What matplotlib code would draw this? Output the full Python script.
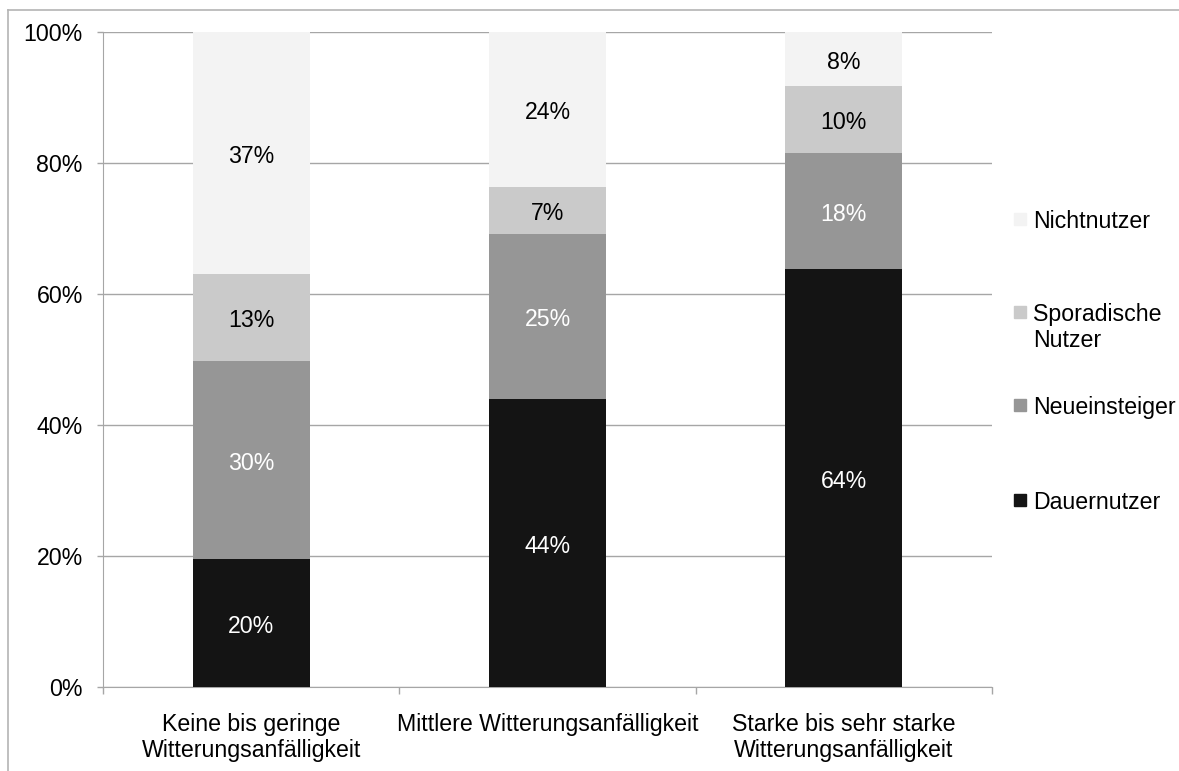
import numpy as np
import matplotlib
matplotlib.use('Agg')
from matplotlib import pyplot as plt
from matplotlib.lines import Line2D

plt.rcParams['font.family'] = ['Liberation Sans', 'DejaVu Sans']

categories = ['Keine bis geringe\nWitterungsanfälligkeit',
              'Mittlere Witterungsanfälligkeit',
              'Starke bis sehr starke\nWitterungsanfälligkeit']
series = ['Dauernutzer', 'Neueinsteiger', 'Sporadische\nNutzer', 'Nichtnutzer']
dauernutzer = [19.5, 43.9, 63.8]
neueinsteiger = [30.3, 25.3, 17.7]
sporadisch = [13.2, 7.1, 10.3]
nichtnutzer = [37.0, 23.7, 8.2]
labels = [['20%', '44%', '64%'],
          ['30%', '25%', '18%'],
          ['13%', '7%', '10%'],
          ['37%', '24%', '8%']]

colors = ['#141414', '#969696', '#cacaca', '#f3f3f3']
text_colors = ['white', 'white', 'black', 'black']
grid_c = '#a6a6a6'
fs = 16.7

fig = plt.figure(figsize=(11.79, 7.71), dpi=100)
ax = fig.add_axes([103 / 1179, 1 - 687 / 771, 889 / 1179, 655 / 771])

x = np.arange(len(categories))
bottom = np.zeros(len(categories))
for i, vals in enumerate([dauernutzer, neueinsteiger, sporadisch, nichtnutzer]):
    vals = np.array(vals)
    bars = ax.bar(x, vals, 0.395, bottom=bottom, color=colors[i], zorder=3)
    for j, b in enumerate(bars):
        ax.text(b.get_x() + b.get_width() / 2, bottom[j] + vals[j] / 2 - 0.5,
                labels[i][j], ha='center', va='center', fontsize=fs,
                color=text_colors[i], zorder=4)
    bottom += vals

ax.set_xlim(-0.5, 2.5)
ax.set_ylim(0, 100)
ax.set_yticks(np.arange(0, 101, 20))
ax.set_yticklabels([f'{v}%' for v in range(0, 101, 20)], fontsize=fs)
ax.yaxis.grid(True, color=grid_c, linewidth=1, zorder=0)
ax.set_xticks(x)
ax.set_xticklabels(categories, fontsize=fs, linespacing=1.13)
ax.tick_params(axis='x', length=0, pad=19)
ax.set_xticks([-0.5, 0.5, 1.5, 2.5], minor=True)
ax.tick_params(axis='x', which='minor', length=5, color=grid_c, width=1)
ax.tick_params(axis='y', length=4.5, color=grid_c, width=1, pad=10)
for s in ['top', 'right']:
    ax.spines[s].set_visible(False)
ax.spines['left'].set_color(grid_c)
ax.spines['bottom'].set_color(grid_c)

# legend (top to bottom: Nichtnutzer ... Dauernutzer)
leg_y = [219, 312, 405, 500]
for k, idx in enumerate([3, 2, 1, 0]):
    yy = 1 - leg_y[k] / 771
    fig.patches.append(plt.Rectangle((1014 / 1179, yy - 6 / 771), 12 / 1179, 12 / 771,
                                     transform=fig.transFigure, color=colors[idx]))
    fig.text(1033 / 1179, yy + 9 / 771, series[idx], fontsize=fs, va='top', ha='left',
             linespacing=1.15)

# outer frame (top and left only)
fig.add_artist(Line2D([8 / 1179, 1], [1 - 10 / 771, 1 - 10 / 771], color='#b4b4b4', lw=1.2,
                      transform=fig.transFigure))
fig.add_artist(Line2D([8 / 1179, 8 / 1179], [0, 1 - 10 / 771], color='#b4b4b4', lw=1.2,
                      transform=fig.transFigure))

fig.savefig('out.png', dpi=100)
